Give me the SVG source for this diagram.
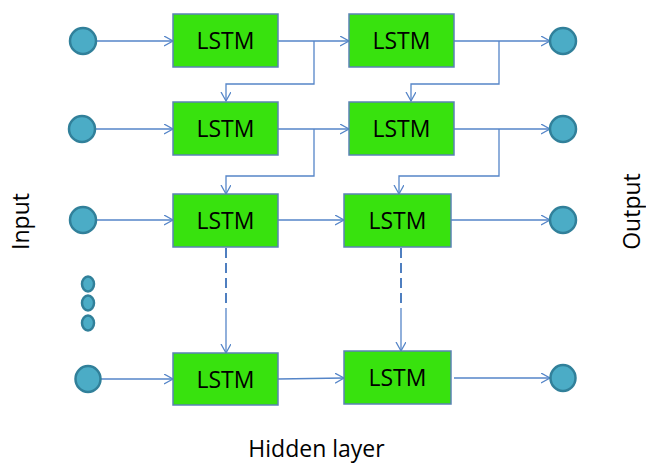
<svg xmlns="http://www.w3.org/2000/svg" width="646" height="463" viewBox="0 0 646 463">
<style>
.box{fill:#38E20E;stroke:#5B82B5;stroke-width:1.5}
.io{fill:#4BACC6;stroke:#31809A;stroke-width:2.5}
.lbl{font-family:"Open Sans","Liberation Sans",sans-serif;font-size:23px;fill:#000}
.c{fill:none;stroke:#5585C8;stroke-width:1.3}
.d{fill:none;stroke:#4F7FC0;stroke-width:2;stroke-dasharray:10,5}
</style>
<defs>
<marker id="ar" markerUnits="userSpaceOnUse" markerWidth="12" markerHeight="12" refX="9" refY="5" orient="auto">
<path d="M0,0 L9,5 L0,10" fill="none" stroke="#5585C8" stroke-width="1.3"/>
</marker>
</defs>
<g id="connectors">
<path class="c" d="M96,41 H173" marker-end="url(#ar)"/>
<path class="c" d="M278,41 H349" marker-end="url(#ar)"/>
<path class="c" d="M314,41 V84 H226 V101" marker-end="url(#ar)"/>
<path class="c" d="M454,41 H550" marker-end="url(#ar)"/>
<path class="c" d="M499,41 V84 H411 V101" marker-end="url(#ar)"/>
<path class="c" d="M95,129 H173" marker-end="url(#ar)"/>
<path class="c" d="M278,129 H349" marker-end="url(#ar)"/>
<path class="c" d="M314,129 V176 H226 V194" marker-end="url(#ar)"/>
<path class="c" d="M454,129 H550" marker-end="url(#ar)"/>
<path class="c" d="M499,129 V176 H399 V194" marker-end="url(#ar)"/>
<path class="c" d="M96,220 H173" marker-end="url(#ar)"/>
<path class="c" d="M278,220 H344" marker-end="url(#ar)"/>
<path class="c" d="M451,220 H550" marker-end="url(#ar)"/>
<path class="d" d="M226,248 V308"/>
<path class="c" d="M226,308 V353" marker-end="url(#ar)"/>
<path class="d" d="M401,248 V308"/>
<path class="c" d="M401,308 V351" marker-end="url(#ar)"/>
<path class="c" d="M101,379 H173" marker-end="url(#ar)"/>
<path class="c" d="M278,379 L344,378" marker-end="url(#ar)"/>
<path class="c" d="M454,378 H550" marker-end="url(#ar)"/>
</g>
<g id="in1"><circle class="io" cx="83" cy="41" r="13"/></g>
<g id="in2"><circle class="io" cx="82" cy="129" r="13"/></g>
<g id="in3"><circle class="io" cx="83" cy="220" r="13"/></g>
<g id="dots">
<ellipse class="io" cx="88" cy="284" rx="6" ry="7.5" stroke-width="2"/>
<ellipse class="io" cx="88" cy="303" rx="6" ry="7.5" stroke-width="2"/>
<ellipse class="io" cx="88" cy="323" rx="6" ry="7.5" stroke-width="2"/>
</g>
<g id="in4"><ellipse class="io" cx="88" cy="379" rx="12.5" ry="13"/></g>
<g id="out1"><circle class="io" cx="563" cy="41" r="13"/></g>
<g id="out2"><circle class="io" cx="563" cy="129" r="13"/></g>
<g id="out3"><circle class="io" cx="563" cy="220" r="13"/></g>
<g id="out4"><ellipse class="io" cx="563" cy="378" rx="12.5" ry="13"/></g>
<g id="lstm11"><rect class="box" x="173" y="14" width="105" height="53"/><text class="lbl" x="225.5" y="49" text-anchor="middle">LSTM</text></g>
<g id="lstm12"><rect class="box" x="349" y="14" width="105" height="53"/><text class="lbl" x="401.5" y="49" text-anchor="middle">LSTM</text></g>
<g id="lstm21"><rect class="box" x="173" y="102" width="105" height="53"/><text class="lbl" x="225.5" y="137" text-anchor="middle">LSTM</text></g>
<g id="lstm22"><rect class="box" x="349" y="102" width="105" height="53"/><text class="lbl" x="401.5" y="137" text-anchor="middle">LSTM</text></g>
<g id="lstm31"><rect class="box" x="173" y="194" width="105" height="53"/><text class="lbl" x="225.5" y="229" text-anchor="middle">LSTM</text></g>
<g id="lstm32"><rect class="box" x="344" y="194" width="107" height="53"/><text class="lbl" x="397.5" y="229" text-anchor="middle">LSTM</text></g>
<g id="lstm41"><rect class="box" x="173" y="353" width="105" height="52"/><text class="lbl" x="225.5" y="388" text-anchor="middle">LSTM</text></g>
<g id="lstm42"><rect class="box" x="344" y="351" width="107" height="53"/><text class="lbl" x="397.5" y="386" text-anchor="middle">LSTM</text></g>
<g id="labels">
<text class="lbl" text-anchor="middle" transform="translate(28.5,221.5) rotate(-90)">Input</text>
<text class="lbl" text-anchor="middle" transform="translate(639.5,211.5) rotate(-90)">Output</text>
<text class="lbl" x="316.5" y="456.5" text-anchor="middle">Hidden layer</text>
</g>
</svg>
